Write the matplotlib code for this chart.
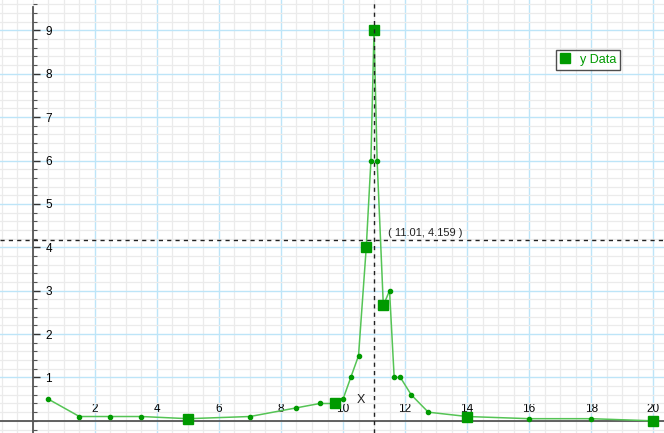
import matplotlib
matplotlib.use('Agg')
import matplotlib.pyplot as plt
from matplotlib.ticker import MultipleLocator

# small dots on the curve
dot_x = [0.5, 1.5, 2.5, 3.5, 7, 8.5, 9.25, 10, 10.25, 10.5, 10.9, 11.1, 11.5, 11.65, 11.85, 12.2, 12.75, 16, 18]
dot_y = [0.5, 0.1, 0.1, 0.1, 0.1, 0.3, 0.4, 0.5, 1.0, 1.5, 6.0, 6.0, 3.0, 1.0, 1.0, 0.6, 0.2, 0.05, 0.05]
# big square points (y Data)
sq_x = [5, 9.75, 10.75, 11, 11.3, 14, 20]
sq_y = [0.05, 0.4, 4.0, 9.0, 2.66, 0.1, 0.0]

x_ticks = [2, 4, 6, 8, 10, 12, 14, 16, 18, 20]
y_ticks = [1, 2, 3, 4, 5, 6, 7, 8, 9]

cursor_x = 11.01
cursor_y = 4.159

green_line = '#55c455'
green_mark = '#009a00'
blue_grid = '#bde5f8'
gray_grid = '#ebebeb'

# line goes through every point in x order
pts = sorted(zip(dot_x + sq_x, dot_y + sq_y))
line_x = [p[0] for p in pts]
line_y = [p[1] for p in pts]

fig = plt.figure(figsize=(6.64, 4.33), dpi=100)
ax = fig.add_axes([0, 0, 1, 1])
ax.set_xlim(-1.06, 20.35)
ax.set_ylim(-0.28, 9.70)

ax.xaxis.set_major_locator(MultipleLocator(2))
ax.xaxis.set_minor_locator(MultipleLocator(0.5))
ax.yaxis.set_major_locator(MultipleLocator(1))
ax.yaxis.set_minor_locator(MultipleLocator(0.2))
ax.grid(which='minor', color=gray_grid, linewidth=0.9, zorder=0)
ax.grid(which='major', color=blue_grid, linewidth=1.0, zorder=0)
ax.set_axisbelow(True)

for s in ['top', 'right']:
    ax.spines[s].set_visible(False)
ax.spines['left'].set_position(('data', 0))
ax.spines['bottom'].set_position(('data', 0))
ax.spines['left'].set_color('#555555')
ax.spines['bottom'].set_color('#555555')
ax.spines['left'].set_bounds(-0.3, 9.55)
ax.spines['left'].set_linewidth(1.3)
ax.spines['bottom'].set_linewidth(1.3)

ax.set_xticks(x_ticks)
ax.set_yticks(y_ticks)
ax.set_xticklabels([str(t) for t in x_ticks])
ax.set_yticklabels([str(t) for t in y_ticks])
ax.tick_params(axis='y', which='major', direction='in', length=5, width=1, color='#333333',
               pad=-9, labelsize=8.5)
ax.tick_params(axis='y', which='minor', direction='in', length=3, width=0.8, color='#555555')
ax.tick_params(axis='x', which='major', direction='in', length=0, pad=-13, labelsize=8.5)
ax.tick_params(axis='x', which='minor', length=0)
for lab in ax.get_yticklabels():
    lab.set_ha('left')
    lab.set_fontfamily('Liberation Sans')
for lab in ax.get_xticklabels():
    lab.set_fontfamily('Liberation Sans')

ax.plot(line_x, line_y, color=green_line, linewidth=1.1, zorder=3)
ax.plot(dot_x, dot_y, 'o', color=green_mark, markersize=3, zorder=4)
ax.plot(sq_x, sq_y, 's', color=green_mark, markersize=7, zorder=5, label='y Data')

# crosshair cursor
ax.axvline(cursor_x, color='#222222', linestyle=(0, (3, 3)), linewidth=1.0, zorder=6)
ax.axhline(cursor_y, color='#222222', linestyle=(0, (3, 3)), linewidth=1.0, zorder=6)
ax.annotate('( %.2f, %.3f )' % (cursor_x, cursor_y), xy=(cursor_x, cursor_y),
            xytext=(10, 2), textcoords='offset points', fontsize=8,
            family='Liberation Sans', va='bottom', ha='left', color='#222222')
ax.text(10.58, 0.48, 'X', fontsize=9, family='Liberation Sans', ha='center', va='center',
        color='#222222')

leg = ax.legend(loc='upper left', bbox_to_anchor=(556 / 664, 1 - 50 / 433), frameon=True,
                fancybox=False, borderpad=0.3, handlelength=0.8, handletextpad=0.8,
                prop={'family': 'Liberation Sans', 'size': 9}, borderaxespad=0)
leg.get_frame().set_edgecolor('#222222')
leg.get_frame().set_linewidth(1.0)
for t in leg.get_texts():
    t.set_color(green_mark)

fig.savefig('out.png', dpi=100)
